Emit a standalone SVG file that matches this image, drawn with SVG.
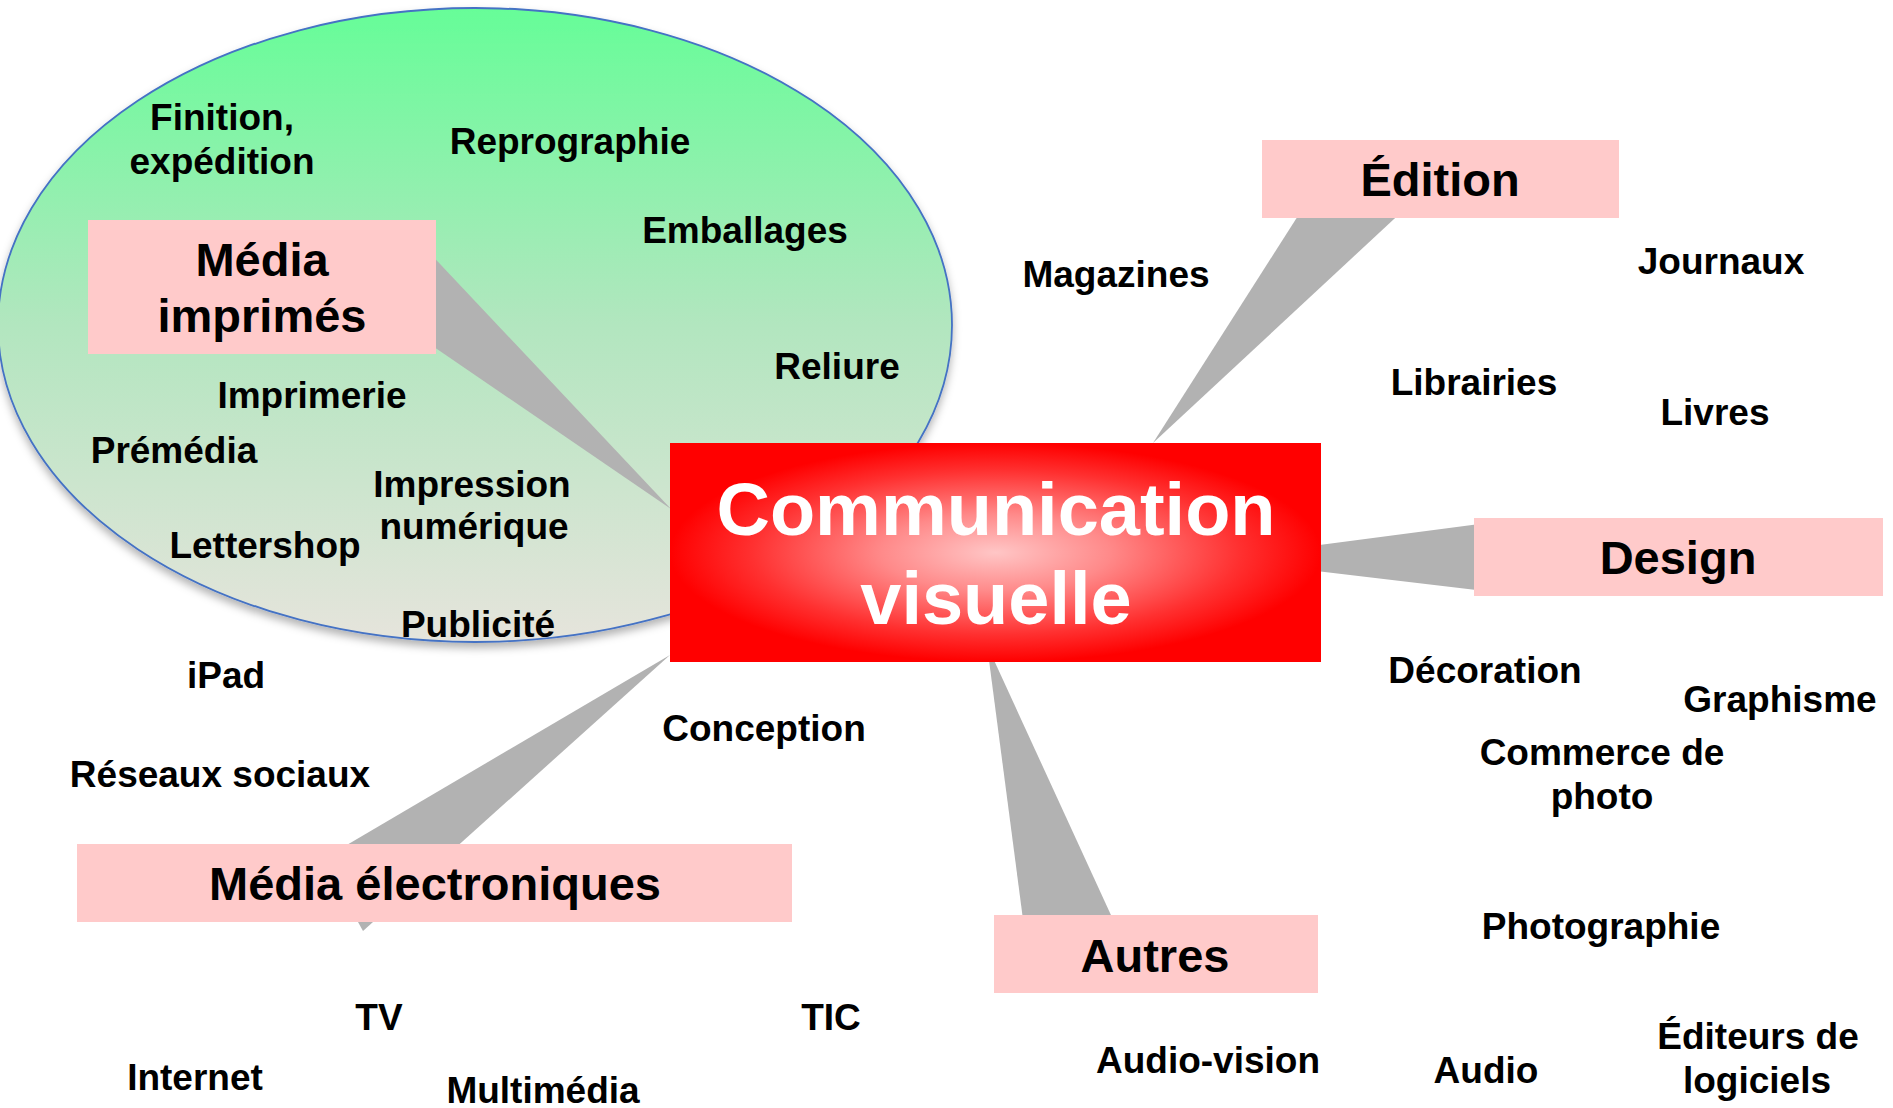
<svg xmlns="http://www.w3.org/2000/svg" width="1893" height="1108" viewBox="0 0 1893 1108">
<defs>
  <linearGradient id="gEll" x1="0" y1="0" x2="0" y2="1">
    <stop offset="0" stop-color="#66fd98"/>
    <stop offset="0.5" stop-color="#b2e6bf"/>
    <stop offset="1" stop-color="#e6e4dc"/>
  </linearGradient>
  <radialGradient id="gCenter" cx="0.5" cy="0.5" r="0.5">
    <stop offset="0" stop-color="#ffc6c6"/>
    <stop offset="0.35" stop-color="#ff8a8a"/>
    <stop offset="0.75" stop-color="#ff3030"/>
    <stop offset="1" stop-color="#ff0000"/>
  </radialGradient>
  <filter id="shadow" x="-5%" y="-5%" width="110%" height="115%">
    <feDropShadow dx="0" dy="5" stdDeviation="4" flood-color="#000" flood-opacity="0.3"/>
  </filter>
  <style>
    .lbl { font-family: "Liberation Sans", Arial, sans-serif; font-weight: bold; font-size: 37px; fill: #000; text-anchor: middle; }
    .br { font-family: "Liberation Sans", Arial, sans-serif; font-weight: bold; font-size: 47px; fill: #000; text-anchor: middle; }
    .ctr { font-family: "Liberation Sans", Arial, sans-serif; font-weight: bold; font-size: 74px; fill: #fff; text-anchor: middle; }
    .box { fill: #ffcaca; }
    .wedge { fill: #b2b2b2; }
  </style>
</defs>

<rect width="1893" height="1108" fill="#ffffff"/>

<g id="zone-imprimes">
  <ellipse cx="475" cy="325" rx="477" ry="317" fill="url(#gEll)" stroke="#4472c4" stroke-width="1.8" filter="url(#shadow)"/>
</g>

<g id="connectors">
  <polygon class="wedge" points="671,509 408,230 380,310"/>
  <polygon class="wedge" points="1153,443 1340,150 1436,180"/>
  <polygon class="wedge" points="1214,559 1510,520 1510,594"/>
  <polygon class="wedge" points="987,645 1027,950 1127,950"/>
  <polygon class="wedge" points="670,655 323,859 363,931"/>
</g>

<g id="node-centre">
  <rect x="670" y="443" width="651" height="219" fill="url(#gCenter)"/>
  <text class="ctr" x="996" y="535">Communication</text>
  <text class="ctr" x="996" y="624">visuelle</text>
</g>

<g id="node-media-imprimes">
  <rect class="box" x="88" y="220" width="348" height="134"/>
  <text class="br" x="262" y="276">Média</text>
  <text class="br" x="262" y="332">imprimés</text>
</g>

<g id="node-edition">
  <rect class="box" x="1262" y="140" width="357" height="78"/>
  <text class="br" x="1440" y="196">Édition</text>
</g>

<g id="node-design">
  <rect class="box" x="1474" y="518" width="409" height="78"/>
  <text class="br" x="1678" y="574">Design</text>
</g>

<g id="node-autres">
  <rect class="box" x="994" y="915" width="324" height="78"/>
  <text class="br" x="1155" y="972">Autres</text>
</g>

<g id="node-media-electroniques">
  <rect class="box" x="77" y="844" width="715" height="78"/>
  <text class="br" x="435" y="900">Média électroniques</text>
</g>

<g id="labels">
  <g id="l-finition"><text class="lbl" x="222" y="130">Finition,</text><text class="lbl" x="222" y="174">expédition</text></g>
  <g id="l-reprographie"><text class="lbl" x="570" y="154">Reprographie</text></g>
  <g id="l-emballages"><text class="lbl" x="745" y="243">Emballages</text></g>
  <g id="l-reliure"><text class="lbl" x="837" y="379">Reliure</text></g>
  <g id="l-imprimerie"><text class="lbl" x="312" y="408">Imprimerie</text></g>
  <g id="l-premedia"><text class="lbl" x="174" y="463">Prémédia</text></g>
  <g id="l-impression"><text class="lbl" x="472" y="497">Impression</text><text class="lbl" x="474" y="539">numérique</text></g>
  <g id="l-lettershop"><text class="lbl" x="265" y="558">Lettershop</text></g>
  <g id="l-publicite"><text class="lbl" x="478" y="637">Publicité</text></g>
  <g id="l-ipad"><text class="lbl" x="226" y="688">iPad</text></g>
  <g id="l-conception"><text class="lbl" x="764" y="741">Conception</text></g>
  <g id="l-reseaux"><text class="lbl" x="220" y="787">Réseaux sociaux</text></g>
  <g id="l-tv"><text class="lbl" x="379" y="1030">TV</text></g>
  <g id="l-tic"><text class="lbl" x="831" y="1030">TIC</text></g>
  <g id="l-internet"><text class="lbl" x="195" y="1090">Internet</text></g>
  <g id="l-multimedia"><text class="lbl" x="543" y="1103">Multimédia</text></g>
  <g id="l-magazines"><text class="lbl" x="1116" y="287">Magazines</text></g>
  <g id="l-journaux"><text class="lbl" x="1721" y="274">Journaux</text></g>
  <g id="l-librairies"><text class="lbl" x="1474" y="395">Librairies</text></g>
  <g id="l-livres"><text class="lbl" x="1715" y="425">Livres</text></g>
  <g id="l-decoration"><text class="lbl" x="1485" y="683">Décoration</text></g>
  <g id="l-graphisme"><text class="lbl" x="1780" y="712">Graphisme</text></g>
  <g id="l-commerce"><text class="lbl" x="1602" y="765">Commerce de</text><text class="lbl" x="1602" y="809">photo</text></g>
  <g id="l-photographie"><text class="lbl" x="1601" y="939">Photographie</text></g>
  <g id="l-audiovision"><text class="lbl" x="1208" y="1073">Audio-vision</text></g>
  <g id="l-audio"><text class="lbl" x="1486" y="1083">Audio</text></g>
  <g id="l-editeurs"><text class="lbl" x="1758" y="1049">Éditeurs de</text><text class="lbl" x="1757" y="1093">logiciels</text></g>
</g>
</svg>
